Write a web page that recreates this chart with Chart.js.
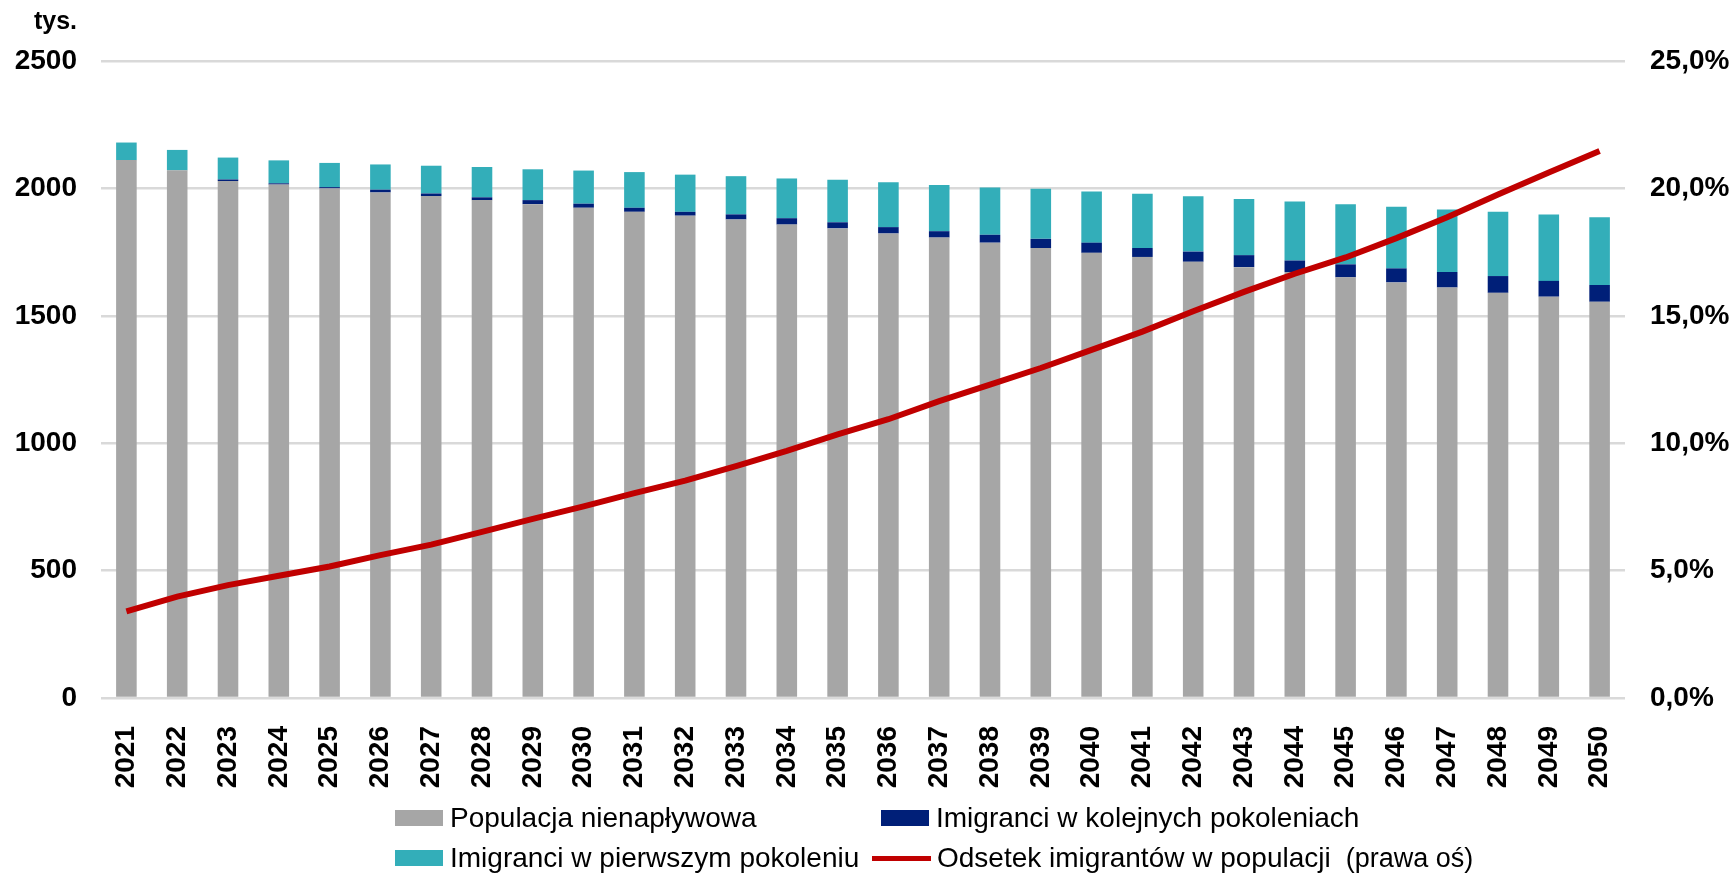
<!DOCTYPE html>
<html lang="pl">
<head>
<meta charset="utf-8">
<title>Populacja i imigranci 2021-2050</title>
<script src="https://cdn.jsdelivr.net/npm/chart.js@4.4.1/dist/chart.umd.min.js"></script>
<style>
    html, body { margin: 0; padding: 0; background: #ffffff; }
    #wrap { position: relative; width: 1734px; height: 877px; font-family: "Liberation Sans", Arial, sans-serif; }
    #population-chart { position: absolute; left: 0; top: 0; }
    .legend-item { position: absolute; display: flex; align-items: center; height: 36px; font-size: 28px; color: #000; white-space: pre; }
    .legend-box { width: 48px; height: 16px; margin-right: 7px; }
    .legend-line { width: 59px; height: 5px; margin-right: 6px; }
    .legend-note { font-size: 27px; }
</style>
</head>
<body>
<div id="wrap">
    <canvas id="population-chart" width="1734" height="877"></canvas>
    <div id="legend"></div>
</div>
<script>
// Years on the x axis
const years = ["2021", "2022", "2023", "2024", "2025", "2026", "2027", "2028", "2029", "2030",
               "2031", "2032", "2033", "2034", "2035", "2036", "2037", "2038", "2039", "2040",
               "2041", "2042", "2043", "2044", "2045", "2046", "2047", "2048", "2049", "2050"];

// Thousands of people
const nativePopulation = [2111, 2071, 2029, 2015, 2000, 1984, 1970, 1954, 1938, 1924,
                          1908, 1893, 1878, 1858, 1843, 1823, 1807, 1787, 1766, 1747,
                          1731, 1712, 1691, 1672, 1651, 1631, 1611, 1590, 1575, 1555];
const laterGenerations = [0, 0, 6, 5, 5, 11, 10, 11, 16, 16,
                          16, 15, 20, 25, 24, 25, 25, 31, 36, 40,
                          35, 40, 47, 45, 51, 55, 61, 66, 62, 66];
const firstGeneration = [69, 80, 86, 90, 95, 99, 109, 119, 121, 130,
                         140, 146, 150, 156, 167, 176, 181, 186, 197, 201,
                         213, 217, 220, 232, 236, 242, 245, 252, 261, 266];

// Share of immigrants in the population, % (right axis)
const immigrantShare = [3.4, 3.98, 4.43, 4.8, 5.16, 5.61, 6.02, 6.52, 7.03, 7.52,
                        8.04, 8.53, 9.1, 9.7, 10.35, 10.94, 11.65, 12.3, 12.95, 13.66,
                        14.38, 15.18, 15.94, 16.65, 17.29, 18.05, 18.87, 19.76, 20.62, 21.47];

// Axis ticks
const leftTicks = [0, 500, 1000, 1500, 2000, 2500];
const rightTicks = [0, 5, 10, 15, 20, 25];

const FONT = "'Liberation Sans', Arial, sans-serif";

document.addEventListener("DOMContentLoaded", function() {

    // Draws the "tys." unit label above the left axis
    const unitLabel = {
        id: "unitLabel",
        afterDraw(chart) {
            const ctx = chart.ctx;
            ctx.save();
            ctx.font = "bold 25px " + FONT;
            ctx.fillStyle = "#000";
            ctx.textAlign = "right";
            ctx.textBaseline = "alphabetic";
            ctx.fillText("tys.", 77, 29);
            ctx.restore();
        }
    };

    const chart = new Chart("population-chart", {
        type: "bar",
        data: {
            labels: years,
            datasets: [
                {
                    type: "line",
                    label: "Odsetek imigrantów w populacji",
                    data: immigrantShare,
                    yAxisID: "y1",
                    borderColor: "#C00000",
                    backgroundColor: "#C00000",
                    borderWidth: 6,
                    pointRadius: 0,
                    tension: 0,
                    order: 0
                },
                {
                    label: "Populacja nienapływowa",
                    data: nativePopulation,
                    backgroundColor: "#A6A6A6",
                    yAxisID: "y",
                    order: 1
                },
                {
                    label: "Imigranci w kolejnych pokoleniach",
                    data: laterGenerations,
                    backgroundColor: "#001F78",
                    yAxisID: "y",
                    order: 1
                },
                {
                    label: "Imigranci w pierwszym pokoleniu",
                    data: firstGeneration,
                    backgroundColor: "#33AEB9",
                    yAxisID: "y",
                    order: 1
                }
            ]
        },
        options: {
            responsive: false,
            animation: false,
            devicePixelRatio: 1,
            layout: { padding: { top: 61, left: 0, right: 0, bottom: 0 } },
            datasets: {
                bar: { barPercentage: 0.405, categoryPercentage: 1.0 }
            },
            plugins: {
                legend: { display: false },
                tooltip: { enabled: false }
            },
            scales: {
                x: {
                    stacked: true,
                    grid: { display: false },
                    border: { display: false },
                    ticks: {
                        autoSkip: false,
                        minRotation: 90,
                        maxRotation: 90,
                        padding: 20,
                        color: "#000",
                        font: { family: FONT, size: 28, weight: "bold" }
                    },
                    afterFit: scale => { scale.height = 179; }
                },
                y: {
                    stacked: true,
                    position: "left",
                    min: 0,
                    max: 2500,
                    afterBuildTicks: scale => { scale.ticks = leftTicks.map(v => ({ value: v })); },
                    grid: { color: "#D9D9D9", lineWidth: 2.5, drawTicks: false },
                    border: { display: false },
                    ticks: {
                        padding: 24,
                        color: "#000",
                        font: { family: FONT, size: 28, weight: "bold" },
                        callback: value => String(value)  // no thousands separator
                    },
                    afterFit: scale => { scale.width = 101; }
                },
                y1: {
                    position: "right",
                    min: 0,
                    max: 25,
                    afterBuildTicks: scale => { scale.ticks = rightTicks.map(v => ({ value: v })); },
                    grid: { drawOnChartArea: false, drawTicks: false },
                    border: { display: false },
                    ticks: {
                        padding: 25,
                        color: "#000",
                        font: { family: FONT, size: 28, weight: "bold" },
                        callback: value => value.toFixed(1).replace(".", ",") + "%"
                    },
                    afterFit: scale => { scale.width = 109; }
                }
            }
        },
        plugins: [unitLabel]
    });

    // HTML legend in two columns, built from the datasets
    const legendEl = document.getElementById("legend");
    const ds = chart.data.datasets;
    const cells = [
        { set: ds[1], left: 395, top: 800, kind: "box" },
        { set: ds[2], left: 881, top: 800, kind: "box" },
        { set: ds[3], left: 395, top: 840, kind: "box" },
        { set: ds[0], left: 872, top: 840, kind: "line", note: "  (prawa oś)" }
    ];
    cells.forEach(cell => {
        const item = document.createElement("div");
        item.className = "legend-item";
        item.style.left = cell.left + "px";
        item.style.top = cell.top + "px";

        const swatch = document.createElement("span");
        swatch.className = cell.kind === "line" ? "legend-line" : "legend-box";
        swatch.style.background = cell.kind === "line" ? cell.set.borderColor : cell.set.backgroundColor;
        item.appendChild(swatch);

        const text = document.createElement("span");
        text.textContent = cell.set.label;
        item.appendChild(text);

        if (cell.note) {
            const note = document.createElement("span");
            note.className = "legend-note";
            note.textContent = cell.note;
            item.appendChild(note);
        }
        legendEl.appendChild(item);
    });
});
</script>
</body>
</html>
